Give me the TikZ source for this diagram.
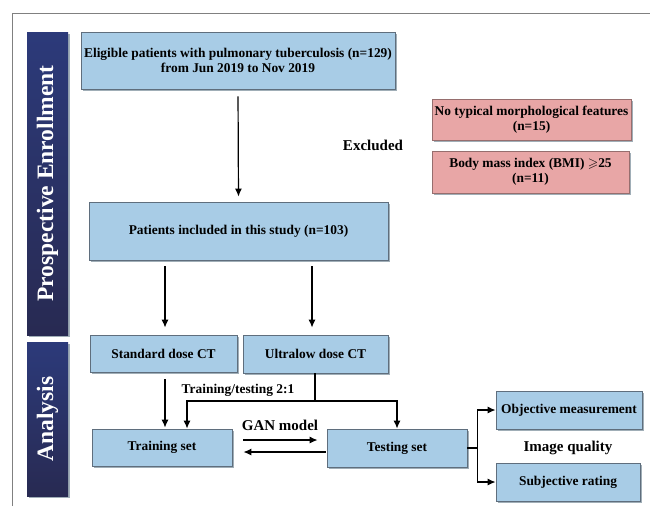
\documentclass[tikz,border=0pt]{standalone}
\usepackage{amssymb}
\usepackage{fontspec}
\setmainfont{Liberation Serif}
\usetikzlibrary{arrows.meta,shadows}
\definecolor{boxblue}{RGB}{168,204,230}
\definecolor{boxedge}{RGB}{95,110,125}
\definecolor{boxred}{RGB}{232,166,166}
\definecolor{rededge}{RGB}{150,110,110}
\definecolor{navyL}{RGB}{44,58,122}
\definecolor{navyR}{RGB}{40,42,82}
\definecolor{shade}{RGB}{150,165,175}

\tikzset{
  flowbox/.style={draw=boxedge,fill=boxblue,line width=0.8pt,inner sep=0pt,align=center,
    font=\bfseries\fontsize{13.4}{15.5}\selectfont,
    drop shadow={shadow xshift=2pt,shadow yshift=-2pt,fill=shade,opacity=0.9}},
  exclbox/.style={flowbox,fill=boxred,draw=rededge},
  band/.style={rotate=90,inner sep=0pt,top color=navyL,bottom color=navyR,text=white,
    font=\bfseries\fontsize{23.5}{26}\selectfont,
    drop shadow={shadow xshift=2pt,shadow yshift=-2pt,fill=shade,opacity=0.9}},
  lbl/.style={font=\bfseries\fontsize{15}{17}\selectfont},
  flow/.style={-{Latex[length=8pt,width=7pt]},line width=1.2pt}
}

\begin{document}
\begin{tikzpicture}[x=1pt,y=-1pt]
  \useasboundingbox (0,0) rectangle (650,506);
  \draw[gray,line width=1pt] (12,506) -- (12,13) -- (650,13);

  % side bands
  \node[band,minimum width=303,minimum height=41] (enrol) at (47.5,183.5) {Prospective Enrollment};
  \node[band,minimum width=154,minimum height=41] (anal)  at (47.5,419) {Analysis};

  % enrollment
  \node[flowbox,minimum width=314,minimum height=57] (elig) at (238,60.5)
    {Eligible patients with pulmonary tuberculosis (n=129)\\from Jun 2019 to Nov 2019};
  \node[flowbox,minimum width=299,minimum height=58] (incl) at (238.5,231)
    {Patients included in this study (n=103)};
  \node[exclbox,minimum width=199,minimum height=41] (nomorph) at (531.5,119.5)
    {No typical morphological features\\(n=15)};
  \node[exclbox,minimum width=197,minimum height=42] (bmi) at (530.5,172)
    {Body mass index (BMI) $\geqslant$25\\(n=11)};
  \node[lbl] (excl) at (373,145) {Excluded};

  % analysis
  \node[flowbox,minimum width=147,minimum height=37] (std)   at (163.5,353.5) {Standard dose CT};
  \node[flowbox,minimum width=145,minimum height=38] (ultra) at (315.5,354) {Ultralow dose CT};
  \node[flowbox,minimum width=140,minimum height=37] (train) at (162,447.5) {Training set};
  \node[flowbox,minimum width=140,minimum height=38] (test)  at (397,448) {Testing set};
  \node[flowbox,minimum width=146,minimum height=38] (obj)   at (569,410) {Objective measurement};
  \node[flowbox,minimum width=144,minimum height=38] (subj)  at (568,482) {Subjective rating};
  \node[font=\bfseries\fontsize{13.4}{15.5}\selectfont] (ratio) at (238,390) {Training/testing 2:1};
  \node[lbl] (gan) at (280,425) {GAN model};
  \node[lbl] (iq)  at (568,448) {Image quality};
  \coordinate (fork) at (315,401);

  \draw[flow,shorten <=7pt,shorten >=5pt] (elig.south) -- (incl.north);
  \draw[flow,shorten <=6pt,shorten >=7pt] (incl.south -| 165,0) -- (std.north -| 165,0);
  \draw[flow,shorten <=6pt,shorten >=7pt] (incl.south -| 312,0) -- (ultra.north -| 312,0);
  \draw[flow,shorten <=7pt,shorten >=1pt] (std.south -| 165,0) -- (train.north -| 165,0);
  \draw[line width=1.2pt] (ultra.south -| fork) -- (fork);
  \draw[flow] (fork) -| ([xshift=25pt]train.north);
  \draw[flow] (fork) -| (test.north);
  \draw[flow,shorten <=11pt,shorten >=9pt] ([yshift=7.5pt]train.east) -- ([yshift=7.5pt]train.east -| test.west);
  \draw[flow,shorten <=1pt,shorten >=11pt] ([yshift=-4.5pt]train.east -| test.west) -- ([yshift=-4.5pt]train.east);
  \draw[flow] (test.east) -- ++(10,0) |- (obj.west);
  \draw[flow] (test.east) -- ++(10,0) |- (subj.west);
\end{tikzpicture}
\end{document}
